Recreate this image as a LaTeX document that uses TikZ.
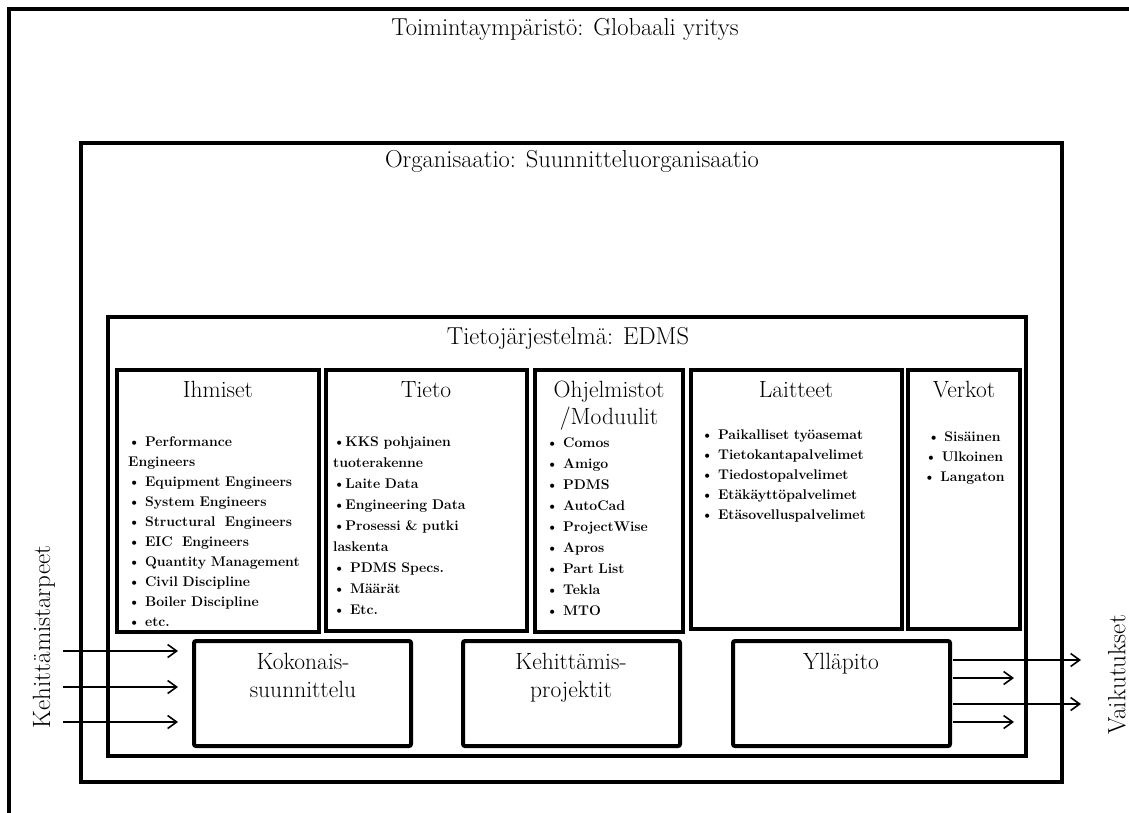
\documentclass[tikz,border=0pt]{standalone}
\usetikzlibrary{arrows.meta}
\begin{document}
\begin{tikzpicture}[x=1pt,y=-1pt,
  panel/.style={draw=black, line width=4pt, anchor=north west, inner sep=0pt, outer sep=0pt},
  taskbox/.style={panel, rounded corners=2pt},
  title/.style={font=\fontsize{23.5}{27}\selectfont, anchor=base, inner sep=0pt},
  bigtitle/.style={title, font=\fontsize{24.5}{28}\selectfont},
  items/.style={font=\bfseries\fontsize{14}{20}\selectfont, anchor=base west, inner sep=0pt, align=left, text width=200pt},
  flow/.style={line width=2pt, -{Straight Barb[length=9pt,width=13pt,line width=1.6pt]}}
]
\useasboundingbox (0,0) rectangle (1129,812);

% nested frames
\node[panel, minimum width=1300pt, minimum height=1000pt] (env) at (9,9) {};
\node[panel, minimum width=981pt, minimum height=639pt] (org) at (81,143) {};
\node[panel, minimum width=918pt, minimum height=439pt] (edms) at (108,317) {};

\node[bigtitle] (envT) at (565,35) {Toimintaympäristö: Globaali yritys};
\node[bigtitle] (orgT) at (572,167) {Organisaatio: Suunnitteluorganisaatio};
\node[bigtitle] (edmsT) at (568,344) {Tietojärjestelmä: EDMS};

% component panels
\node[panel, minimum width=202pt, minimum height=262pt] (ihm) at (117,370) {};
\node[panel, minimum width=201pt, minimum height=261pt] (tie) at (326,370) {};
\node[panel, minimum width=148pt, minimum height=262pt] (ohj) at (535,370) {};
\node[panel, minimum width=211pt, minimum height=259pt] (lai) at (691,370) {};
\node[panel, minimum width=112pt, minimum height=259pt] (ver) at (908,370) {};

\node[title] (ihmT) at (218,397) {Ihmiset};
\node[title] (tieT) at (426,397) {Tieto};
\node[title, align=center, text width=148pt] (ohjT) at (609,397) {Ohjelmistot\\/Moduulit};
\node[title] (laiT) at (796,397) {Laitteet};
\node[title] (verT) at (964,397) {Verkot};

\node[items] (ihmL) at (128,446) {\textbullet{} Performance\\Engineers\\\textbullet{} Equipment Engineers\\\textbullet{} System Engineers\\\textbullet{} Structural\ \ Engineers\\\textbullet{} EIC\ \ Engineers\\\textbullet{} Quantity Management\\\textbullet{} Civil Discipline\\\textbullet{} Boiler Discipline\\\textbullet{} etc.};
\node[items, font=\bfseries\fontsize{14}{21}\selectfont] (tieL) at (333,446) {\textbullet KKS pohjainen\\tuoterakenne\\\textbullet Laite Data\\\textbullet Engineering Data\\\textbullet Prosessi \& putki\\laskenta\\\textbullet{} PDMS Specs.\\\textbullet{} Määrät\\\textbullet{} Etc.};
\node[items, font=\bfseries\fontsize{14}{21}\selectfont] (ohjL) at (546,447) {\textbullet{} Comos\\\textbullet{} Amigo\\\textbullet{} PDMS\\\textbullet{} AutoCad\\\textbullet{} ProjectWise\\\textbullet{} Apros\\\textbullet{} Part List\\\textbullet{} Tekla\\\textbullet{} MTO};
\node[items] (laiL) at (701,439) {\textbullet{} Paikalliset työasemat\\\textbullet{} Tietokantapalvelimet\\\textbullet{} Tiedostopalvelimet\\\textbullet{} Etäkäyttöpalvelimet\\\textbullet{} Etäsovelluspalvelimet};
\node[items, anchor=base, align=center, text width=110pt] (verL) at (964,441) {\textbullet{} Sisäinen\\\textbullet{} Ulkoinen\\\textbullet{} Langaton};

% activity boxes
\node[taskbox, minimum width=217pt, minimum height=105pt] (kok) at (194,641) {};
\node[taskbox, minimum width=217pt, minimum height=105pt] (keh) at (463,641) {};
\node[taskbox, minimum width=217pt, minimum height=105pt] (yll) at (733,641) {};

\node[title, align=center, text width=210pt, font=\fontsize{23.5}{28}\selectfont] (kokT) at (303,669) {Kokonais-\\suunnittelu};
\node[title, align=center, text width=210pt, font=\fontsize{23.5}{28}\selectfont] (kehT) at (571,669) {Kehittämis-\\projektit};
\node[title] (yllT) at (841,669) {Ylläpito};

% incoming needs and outgoing effects
\node[bigtitle, anchor=center, rotate=90, font=\fontsize{25}{28}\selectfont] (needs) at (44,637) {Kehittämistarpeet};
\node[bigtitle, anchor=center, rotate=90, font=\fontsize{25}{28}\selectfont] (effects) at (1117,675) {Vaikutukset};

\foreach \i/\y in {1/651,2/687,3/722}{
  \coordinate (in\i s) at (63,\y);
  \coordinate (in\i e) at (178,\y);
  \draw[flow] (in\i s) -- (in\i e);
}
\foreach \i/\y/\x in {1/660/1081,2/678/1014,3/704/1081,4/722/1014}{
  \coordinate (out\i s) at (953,\y);
  \coordinate (out\i e) at (\x,\y);
  \draw[flow] (out\i s) -- (out\i e);
}
\end{tikzpicture}
\end{document}
